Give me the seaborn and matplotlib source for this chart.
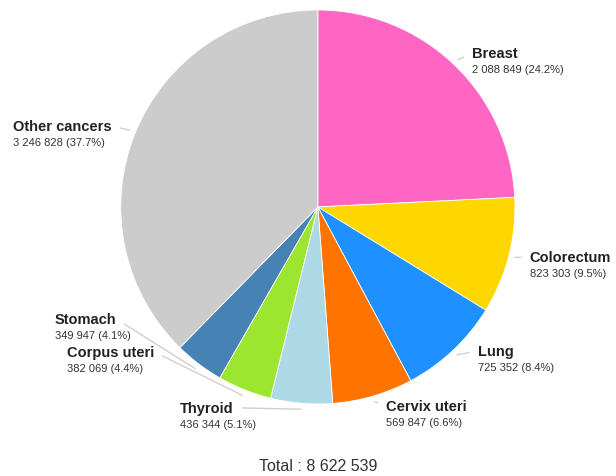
import numpy as np
import seaborn as sns
import matplotlib.pyplot as plt

cancers = ["Breast", "Colorectum", "Lung", "Cervix uteri",
           "Thyroid", "Corpus uteri", "Stomach", "Other cancers"]
cases = [2088849, 823303, 725352, 569847, 436344, 382069, 349947, 3246828]
colors = ["#FF66C4", "#FFD700", "#1E90FF", "#FF7400",
          "#ADD8E6", "#9CE630", "#4682B4", "#CCCCCC"]

# label layout (figure fraction of the bold line, which side the leader leaves)
label_pos = {
    "Breast": (0.766, 0.887, "left"),
    "Colorectum": (0.860, 0.459, "left"),
    "Lung": (0.776, 0.262, "left"),
    "Cervix uteri": (0.627, 0.147, "left"),
    "Thyroid": (0.292, 0.143, "right"),
    "Corpus uteri": (0.109, 0.260, "right"),
    "Stomach": (0.089, 0.329, "right"),
    "Other cancers": (0.021, 0.734, "right"),
}

sns.set_theme(style="white")
plt.rcParams["font.family"] = ["Liberation Sans", "DejaVu Sans"]

fig = plt.figure(figsize=(6.16, 4.77), dpi=100)
ax = fig.add_axes([0.196, 0.151, 0.640, 0.826])

pal = sns.color_palette(colors)
wedges, _ = ax.pie(cases, colors=pal, startangle=90, counterclock=False,
                   wedgeprops=dict(edgecolor="white", linewidth=0.6))
ax.set_xlim(-1, 1)
ax.set_ylim(-1, 1)
ax.set_aspect("auto")
ax.axis("off")

total = sum(cases)
fmt = lambda v: f"{v:,}".replace(",", " ")

for w, name, val in zip(wedges, cancers, cases):
    ang = np.deg2rad((w.theta1 + w.theta2) / 2)
    x, y = np.cos(ang) * 1.03, np.sin(ang) * 1.03
    fx, fy, side = label_pos[name]
    rel = (0, 0.5) if side == "left" else (1, 0.5)
    ax.annotate(name, xy=(x, y), xytext=(fx, fy), textcoords="figure fraction",
                ha="left", va="center", fontsize=10.5, fontweight="bold",
                color="#222222", annotation_clip=False,
                arrowprops=dict(arrowstyle="-", color="#d0d0d0", lw=1,
                                relpos=rel, shrinkA=4, shrinkB=0))
    fig.text(fx, fy - 0.034, f"{fmt(val)} ({val / total * 100:.1f}%)",
             ha="left", va="center", fontsize=8, color="#333333")

fig.text(0.516, 0.023, f"Total : {fmt(total)}", ha="center", va="center",
         fontsize=11.5, color="#333333")

plt.savefig("out.png", dpi=100)
